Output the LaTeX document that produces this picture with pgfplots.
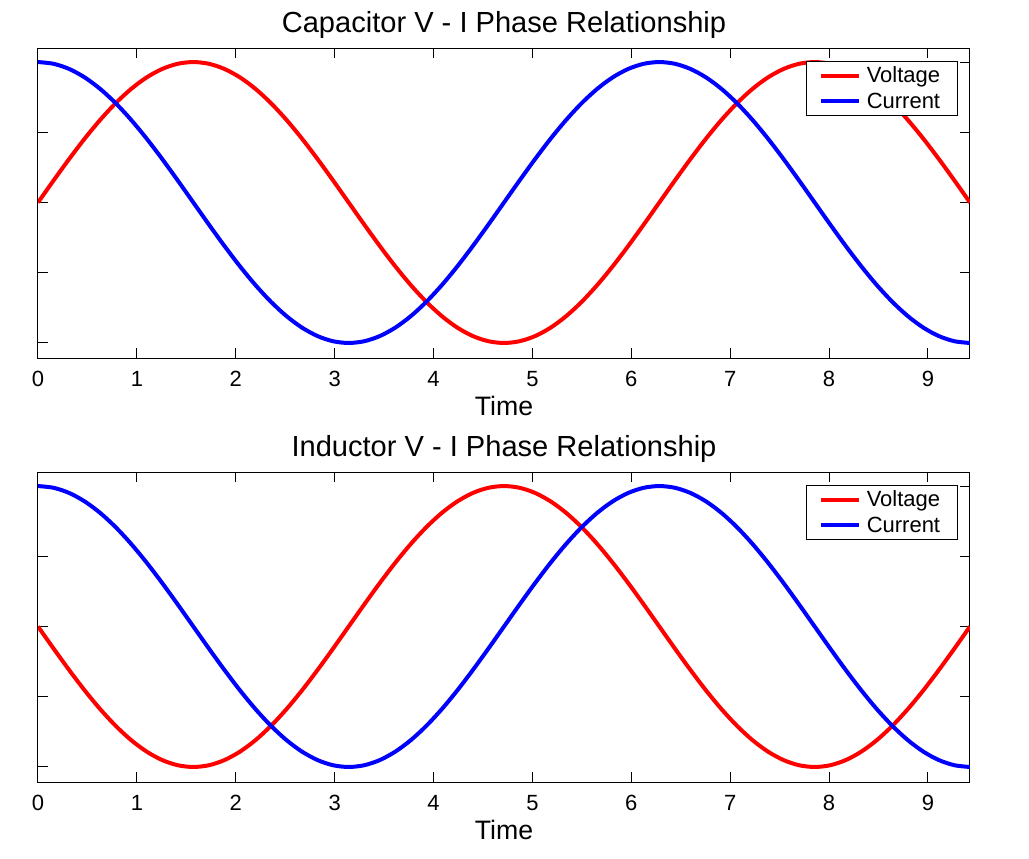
\documentclass[border=0pt]{standalone}
\usepackage{pgfplots}
\pgfplotsset{compat=1.18}
\usepackage{pgfplotstable}
\usepackage{fontspec}
\setmainfont{Liberation Sans}
\pgfplotstableread{
x s c n
0.0000 0 1 0
0.1571 0.15643 0.98769 -0.15643
0.3142 0.30902 0.95106 -0.30902
0.4712 0.45399 0.89101 -0.45399
0.6283 0.58779 0.80902 -0.58779
0.7854 0.70711 0.70711 -0.70711
0.9425 0.80902 0.58779 -0.80902
1.0996 0.89101 0.45399 -0.89101
1.2566 0.95106 0.30902 -0.95106
1.4137 0.98769 0.15643 -0.98769
1.5708 1 0 -1
1.7279 0.98769 -0.15643 -0.98769
1.8850 0.95106 -0.30902 -0.95106
2.0420 0.89101 -0.45399 -0.89101
2.1991 0.80902 -0.58779 -0.80902
2.3562 0.70711 -0.70711 -0.70711
2.5133 0.58779 -0.80902 -0.58779
2.6704 0.45399 -0.89101 -0.45399
2.8274 0.30902 -0.95106 -0.30902
2.9845 0.15643 -0.98769 -0.15643
3.1416 0 -1 0
3.2987 -0.15643 -0.98769 0.15643
3.4558 -0.30902 -0.95106 0.30902
3.6128 -0.45399 -0.89101 0.45399
3.7699 -0.58779 -0.80902 0.58779
3.9270 -0.70711 -0.70711 0.70711
4.0841 -0.80902 -0.58779 0.80902
4.2412 -0.89101 -0.45399 0.89101
4.3982 -0.95106 -0.30902 0.95106
4.5553 -0.98769 -0.15643 0.98769
4.7124 -1 0 1
4.8695 -0.98769 0.15643 0.98769
5.0265 -0.95106 0.30902 0.95106
5.1836 -0.89101 0.45399 0.89101
5.3407 -0.80902 0.58779 0.80902
5.4978 -0.70711 0.70711 0.70711
5.6549 -0.58779 0.80902 0.58779
5.8119 -0.45399 0.89101 0.45399
5.9690 -0.30902 0.95106 0.30902
6.1261 -0.15643 0.98769 0.15643
6.2832 0 1 0
6.4403 0.15643 0.98769 -0.15643
6.5973 0.30902 0.95106 -0.30902
6.7544 0.45399 0.89101 -0.45399
6.9115 0.58779 0.80902 -0.58779
7.0686 0.70711 0.70711 -0.70711
7.2257 0.80902 0.58779 -0.80902
7.3827 0.89101 0.45399 -0.89101
7.5398 0.95106 0.30902 -0.95106
7.6969 0.98769 0.15643 -0.98769
7.8540 1 0 -1
8.0111 0.98769 -0.15643 -0.98769
8.1681 0.95106 -0.30902 -0.95106
8.3252 0.89101 -0.45399 -0.89101
8.4823 0.80902 -0.58779 -0.80902
8.6394 0.70711 -0.70711 -0.70711
8.7965 0.58779 -0.80902 -0.58779
8.9535 0.45399 -0.89101 -0.45399
9.1106 0.30902 -0.95106 -0.30902
9.2677 0.15643 -0.98769 -0.15643
9.4248 0 -1 0
}\data
\pgfplotsset{
  myax/.style={
    scale only axis, width=699pt, height=232.5pt,
    xmin=0, xmax=9.4248, ymin=-1.107, ymax=1.1,
    xtick={0,1,...,9}, ytick={-1,-0.5,0,0.5,1}, yticklabels={},
    tick pos=both, tick align=inside, major tick length=7.5pt,
    axis line style={line width=0.75pt}, every tick/.style={line width=0.75pt, black},
    /pgf/number format/assume math mode=true,
    tick label style={font=\fontsize{16.5}{19}\selectfont},
    xticklabel style={anchor=base, yshift=-21pt},
    title style={font=\fontsize{21.8}{25}\selectfont, at={(axis description cs:0.5,1)}, anchor=base, yshift=5.5pt},
    xlabel={Time}, xlabel style={font=\fontsize{20}{23}\selectfont, at={(axis description cs:0.5,0)}, anchor=base, yshift=-42.75pt},
    legend style={at={(axis description cs:1,1)}, anchor=north east, xshift=-9pt, yshift=-9.75pt,
      font=\fontsize{16.5}{19}\selectfont, draw=black, line width=0.75pt, inner xsep=9pt, inner ysep=2pt,
      row sep=2pt, cells={anchor=west},
      nodes={inner xsep=4pt}},
    legend image code/.code={\draw[#1, line width=3pt] (0pt,0pt) -- (29pt,0pt);},
    every axis plot/.append style={line width=3pt, line join=round, smooth},
  }
}
\begin{document}
\begin{tikzpicture}
\begin{axis}[myax, title={Capacitor V - I Phase Relationship}]
\addplot[red, no marks] table[x=x, y=s] {\data};
\addplot[blue, no marks] table[x=x, y=c] {\data};
\legend{Voltage, Current}
\end{axis}
\begin{axis}[myax, yshift=-318pt, title={Inductor V - I Phase Relationship}]
\addplot[red, no marks] table[x=x, y=n] {\data};
\addplot[blue, no marks] table[x=x, y=c] {\data};
\legend{Voltage, Current}
\end{axis}
\pgfresetboundingbox
\path (-28.5pt,-375pt) rectangle (743.25pt,268.5pt);
\end{tikzpicture}
\end{document}
